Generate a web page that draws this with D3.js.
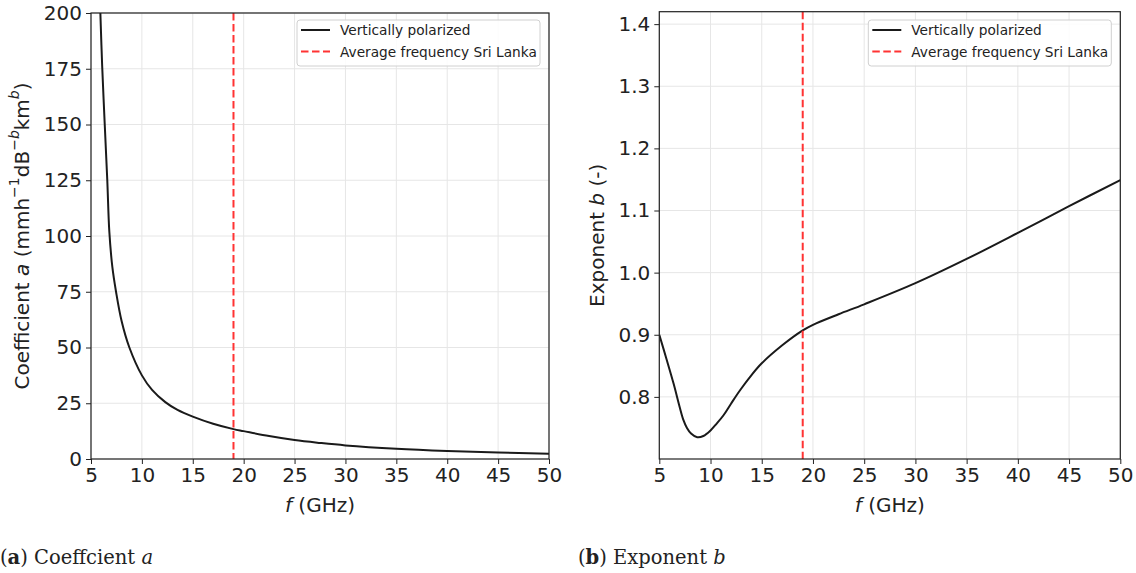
<!DOCTYPE html>
<html>
<head>
<meta charset="utf-8">
<script src="https://cdn.jsdelivr.net/npm/d3@7"></script>
<style>
  html, body { margin: 0; padding: 0; background: #fff; }
  svg { display: block; }
  text { font-family: "DejaVu Sans", sans-serif; fill: #222; }
</style>
</head>
<body>
<svg id="fig" width="1136" height="573"></svg>
<script>
// Rain-attenuation power-law parameters versus frequency (vertical polarization)
const freqA = [5.92, 6.1, 6.35, 6.6, 6.8, 7.1, 7.46, 8.0, 8.77, 10, 11, 12.3, 13.5, 15, 17, 19, 20, 22.5, 25, 27.5, 30, 35, 40, 45, 50];
const coefA = [200, 176, 150, 125, 102, 86, 75, 62, 50, 37.5, 31, 25.5, 22, 19, 15.8, 13.4, 12.5, 10.3, 8.5, 7.2, 6.1, 4.6, 3.6, 2.9, 2.4];

const freqB = [5, 5.7, 6.4, 7.0, 7.35, 7.7, 8.1, 8.7, 9.3, 10, 10.6, 11.25, 12, 12.9, 14, 15, 17, 19, 20, 22.5, 25, 30, 35, 40, 45, 50];
const expB  = [0.900, 0.861, 0.821, 0.783, 0.763, 0.750, 0.741, 0.735, 0.737, 0.746, 0.757, 0.770, 0.789, 0.811, 0.835, 0.854, 0.883, 0.907, 0.916, 0.933, 0.949, 0.983, 1.022, 1.064, 1.107, 1.149];

const xTicks  = [5, 10, 15, 20, 25, 30, 35, 40, 45, 50];
const aTicks  = [0, 25, 50, 75, 100, 125, 150, 175, 200];
const bTicks  = [0.8, 0.9, 1.0, 1.1, 1.2, 1.3, 1.4];
const sriLankaFreq = 19;
const legendLabels = ["Vertically polarized", "Average frequency Sri Lanka"];

const svg = d3.select("#fig");

function panel(opts) {
  const { id, x0, x1, y0, y1, yDomain, yTicks, yFmt, xs, ys, yLabelX, yLabel, captionX, caption } = opts;
  const g = svg.append("g");
  const x = d3.scaleLinear().domain([5, 50]).range([x0, x1]);
  const y = d3.scaleLinear().domain(yDomain).range([y1, y0]);

  g.append("defs").append("clipPath").attr("id", "clip-" + id)
    .append("rect").attr("x", x0).attr("y", y0).attr("width", x1 - x0).attr("height", y1 - y0);

  // grid
  g.append("g").selectAll("line").data(xTicks).join("line")
    .attr("x1", d => x(d)).attr("x2", d => x(d)).attr("y1", y0).attr("y2", y1)
    .attr("stroke", "#e6e6e6").attr("stroke-width", 1);
  g.append("g").selectAll("line").data(yTicks).join("line")
    .attr("x1", x0).attr("x2", x1).attr("y1", d => y(d)).attr("y2", d => y(d))
    .attr("stroke", "#e6e6e6").attr("stroke-width", 1);

  // data curve
  const line = d3.line().x(d => x(d[0])).y(d => y(d[1])).curve(d3.curveCatmullRom.alpha(0.5));
  g.append("path").datum(d3.zip(xs, ys))
    .attr("clip-path", `url(#clip-${id})`)
    .attr("d", line).attr("fill", "none")
    .attr("stroke", "#1a1a1a").attr("stroke-width", 2);

  // average frequency marker
  g.append("line")
    .attr("x1", x(sriLankaFreq)).attr("x2", x(sriLankaFreq)).attr("y1", y0).attr("y2", y1)
    .attr("stroke", "#ff3333").attr("stroke-width", 2).attr("stroke-dasharray", "7.5,3.5");

  // axes
  const ax = g.append("g").attr("transform", `translate(0,${y1})`)
    .call(d3.axisBottom(x).tickValues(xTicks).tickSize(5).tickPadding(4).tickFormat(d3.format("d")));
  const ay = g.append("g").attr("transform", `translate(${x0},0)`)
    .call(d3.axisLeft(y).tickValues(yTicks).tickSize(5).tickPadding(4).tickFormat(yFmt));
  [ax, ay].forEach(a => {
    a.select(".domain").remove();
    a.selectAll("line").attr("stroke", "#222").attr("stroke-width", 1);
    a.selectAll("text").style("font-size", "20px").attr("fill", "#222");
  });

  // frame
  g.append("rect").attr("x", x0).attr("y", y0).attr("width", x1 - x0).attr("height", y1 - y0)
    .attr("fill", "none").attr("stroke", "#222").attr("stroke-width", 1.2);

  // x label
  const xl = g.append("text").attr("x", (x0 + x1) / 2).attr("y", 512)
    .attr("text-anchor", "middle").style("font-size", "20px");
  xl.append("tspan").attr("font-style", "italic").text("f");
  xl.append("tspan").text(" (GHz)");

  // y label
  const yl = g.append("text")
    .attr("transform", `translate(${yLabelX},${(y0 + y1) / 2}) rotate(-90)`)
    .attr("text-anchor", "middle").attr("dominant-baseline", "central")
    .style("font-size", "20px");
  yLabel(yl);

  // legend
  const lw = 243, lh = 46;
  const lx = x1 - 9 - lw, ly = 20;
  const lg = g.append("g").attr("transform", `translate(${lx},${ly})`);
  lg.append("rect").attr("width", lw).attr("height", lh).attr("rx", 3)
    .attr("fill", "rgba(255,255,255,0.85)").attr("stroke", "#d0d0d0");
  const rows = [
    { c: "#1a1a1a", dash: null },
    { c: "#ff3333", dash: "7.5,3.5" }
  ];
  rows.forEach((r, i) => {
    const cy = 10 + i * 21.5;
    lg.append("line").attr("x1", 4).attr("x2", 33).attr("y1", cy).attr("y2", cy)
      .attr("stroke", r.c).attr("stroke-width", 2).attr("stroke-dasharray", r.dash);
    lg.append("text").attr("x", 43).attr("y", cy).attr("dominant-baseline", "central")
      .style("font-size", "13.7px").text(legendLabels[i]);
  });

  // caption
  const cap = svg.append("text").attr("x", captionX).attr("y", 564)
    .style("font-size", "19.5px")
    .style("font-family", "'DejaVu Serif', serif").attr("fill", "#111");
  caption(cap);
}

function sup(t, s, italic) {
  t.append("tspan").attr("baseline-shift", "super").style("font-size", "14px")
    .attr("font-style", italic ? "italic" : null).text(s);
}

panel({
  id: "a", x0: 91, x1: 549, y0: 13, y1: 459,
  yDomain: [0, 200], yTicks: aTicks, yFmt: d3.format("d"),
  xs: freqA, ys: coefA, yLabelX: 22,
  yLabel: t => {
    t.append("tspan").text("Coefficient ");
    t.append("tspan").attr("font-style", "italic").text("a");
    t.append("tspan").text(" (mmh");
    sup(t, "−1");
    t.append("tspan").text("dB");
    t.append("tspan").attr("baseline-shift", "super").style("font-size", "14px").text("−");
    t.append("tspan").attr("baseline-shift", "super").style("font-size", "14px").attr("font-style", "italic").text("b");
    t.append("tspan").text("km");
    sup(t, "b", true);
    t.append("tspan").text(")");
  },
  captionX: 0,
  caption: t => {
    t.append("tspan").text("(");
    t.append("tspan").attr("font-weight", "bold").text("a");
    t.append("tspan").text(") Coeffcient ");
    t.append("tspan").attr("font-style", "italic").text("a");
  }
});

panel({
  id: "b", x0: 659.3, x1: 1120.3, y0: 11.7, y1: 459,
  yDomain: [0.70, 1.42], yTicks: bTicks, yFmt: d3.format(".1f"),
  xs: freqB, ys: expB, yLabelX: 597,
  yLabel: t => {
    t.append("tspan").text("Exponent ");
    t.append("tspan").attr("font-style", "italic").text("b");
    t.append("tspan").text(" (-)");
  },
  captionX: 578,
  caption: t => {
    t.append("tspan").text("(");
    t.append("tspan").attr("font-weight", "bold").text("b");
    t.append("tspan").text(") Exponent ");
    t.append("tspan").attr("font-style", "italic").text("b");
  }
});
</script>
</body>
</html>
